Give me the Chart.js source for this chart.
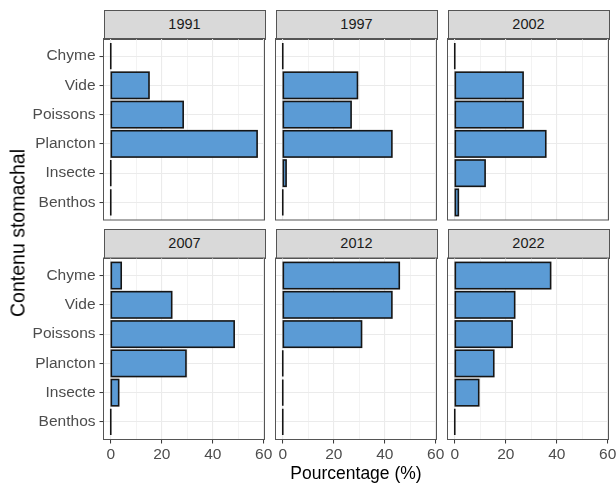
<!DOCTYPE html>
<html>
<head>
<meta charset="utf-8">
<script src="https://cdn.jsdelivr.net/npm/chart.js@4"></script>
<style>
  body { margin: 0; width: 616px; height: 487px; overflow: hidden; background: #fff; font-family: "Liberation Sans", Arial, sans-serif; }
  canvas { position: absolute; left: 0; top: 0; pointer-events: none; }
  .bandeau { position: absolute; box-sizing: border-box; background: #d9d9d9; border: 1px solid #555; color: #1a1a1a; font-size: 14.5px; text-align: center; line-height: 27px; }
  .titre { position: absolute; color: #000; font-size: 17.5px; white-space: nowrap; }
</style>
</head>
<body>
<div id="page"></div>
<script>
// Niveaux du facteur (de bas en haut, comme dans ggplot)
const categories = ["Benthos", "Insecte", "Plancton", "Poissons", "Vide", "Chyme"];
const annees = ["1991", "1997", "2002", "2007", "2012", "2022"];

// Pourcentages par année, dans l'ordre de categories
const p1991 = [0, 0, 57.4, 28.4, 15.0, 0];
const p1997 = [0, 1.3, 42.8, 26.8, 29.3, 0];
const p2002 = [1.4, 11.9, 35.7, 26.8, 26.8, 0];
const p2007 = [0, 3.1, 29.5, 48.4, 23.9, 4.1];
const p2012 = [0, 0, 0, 30.9, 42.8, 45.7];
const p2022 = [0, 9.4, 15.3, 22.5, 23.5, 37.6];
const valeurs = [p1991, p1997, p2002, p2007, p2012, p2022];

const ticksX = [0, 10, 20, 30, 40, 50, 60];

// Position des panneaux
const gauches = [103.5, 275.5, 447.5];
const largeur = 161;
const hauts = [38.5, 258];
const hauteur = 181.5;
const W = 616, H = 487;

Chart.defaults.font.family = '"Liberation Sans", Arial, sans-serif';

// Contour des barres (comme geom_col avec colour) et cadre du panneau
const cadre = {
    id: "cadre",
    afterDatasetsDraw(chart) {
        const ctx = chart.ctx;
        ctx.save();
        ctx.strokeStyle = "#151515";
        ctx.lineWidth = 1.6;
        chart.getDatasetMeta(0).data.forEach(b => {
            const p = b.getProps(["x", "y", "base", "height"], true);
            ctx.strokeRect(Math.min(p.x, p.base), p.y - p.height / 2, Math.abs(p.x - p.base), p.height);
        });
        const a = chart.chartArea;
        ctx.strokeStyle = "#555";
        ctx.lineWidth = 1;
        ctx.strokeRect(a.left, a.top, a.right - a.left, a.bottom - a.top);
        ctx.restore();
    }
};

const page = document.getElementById("page");

annees.forEach((annee, i) => {
    const col = i % 3;
    const lig = Math.floor(i / 3);
    const L = gauches[col], T = hauts[lig];
    const R = L + largeur, B = T + hauteur;

    const bandeau = document.createElement("div");
    bandeau.className = "bandeau";
    bandeau.style.left = L + "px";
    bandeau.style.top = (T - 29) + "px";
    bandeau.style.width = (largeur + 1) + "px";
    bandeau.style.height = "30px";
    bandeau.textContent = annee;
    page.appendChild(bandeau);

    const canvas = document.createElement("canvas");
    canvas.width = W;
    canvas.height = H;
    page.appendChild(canvas);

    new Chart(canvas, {
        type: "bar",
        data: {
            datasets: [{
                data: valeurs[i].map((v, k) => ({x: v, y: k + 1})),
                backgroundColor: "#5b9bd5",
                borderWidth: 0,
                categoryPercentage: 0.9,
                barPercentage: 1
            }]
        },
        plugins: [cadre],
        options: {
            indexAxis: "y",
            responsive: false,
            animation: false,
            layout: {padding: {left: col === 0 ? 0 : L, top: T, right: W - R, bottom: 0}},
            plugins: {legend: {display: false}, tooltip: {enabled: false}},
            scales: {
                x: {
                    type: "linear",
                    min: -2.85,
                    max: 60.3,
                    afterBuildTicks: s => { s.ticks = ticksX.map(v => ({value: v})); },
                    afterFit: s => { s.height = H - B; s.paddingLeft = 0; s.paddingRight = 0; },
                    border: {display: false},
                    grid: {
                        color: "#ebebeb",
                        lineWidth: c => (c.tick && c.tick.value % 20 === 0) ? 1.1 : 0.6,
                        drawTicks: lig === 1,
                        tickLength: 4,
                        tickColor: c => (c.tick && c.tick.value % 20 === 0) ? "#333" : "rgba(0,0,0,0)",
                        tickWidth: 1
                    },
                    ticks: {
                        display: lig === 1,
                        autoSkip: false,
                        maxRotation: 0,
                        padding: 2,
                        color: "#4d4d4d",
                        font: {size: 15.5},
                        callback: v => v % 20 === 0 ? v : ""
                    }
                },
                y: {
                    type: "linear",
                    min: 0.4,
                    max: 6.6,
                    offset: false,
                    afterBuildTicks: s => { s.ticks = categories.map((c, k) => ({value: k + 1})); },
                    afterFit: s => { s.width = col === 0 ? L : 0; s.paddingTop = 0; s.paddingBottom = 0; },
                    border: {display: false},
                    grid: {
                        offset: false,
                        color: "#ebebeb",
                        lineWidth: 1.1,
                        drawTicks: col === 0,
                        tickLength: 4,
                        tickColor: "#333",
                        tickWidth: 1
                    },
                    ticks: {
                        display: col === 0,
                        padding: 4,
                        color: "#4d4d4d",
                        font: {size: 15.5},
                        callback: v => categories[Math.round(v) - 1]
                    }
                }
            }
        }
    });
});

const titreX = document.createElement("div");
titreX.className = "titre";
titreX.textContent = "Pourcentage (%)";
titreX.style.left = "356px";
titreX.style.top = "463px";
titreX.style.transform = "translateX(-50%) scaleY(1.08)";
page.appendChild(titreX);

const titreY = document.createElement("div");
titreY.className = "titre";
titreY.textContent = "Contenu stomachal";
titreY.style.fontSize = "19.5px";
titreY.style.left = "18px";
titreY.style.top = "233px";
titreY.style.transform = "translate(-50%, -50%) rotate(-90deg)";
page.appendChild(titreY);
</script>
</body>
</html>
